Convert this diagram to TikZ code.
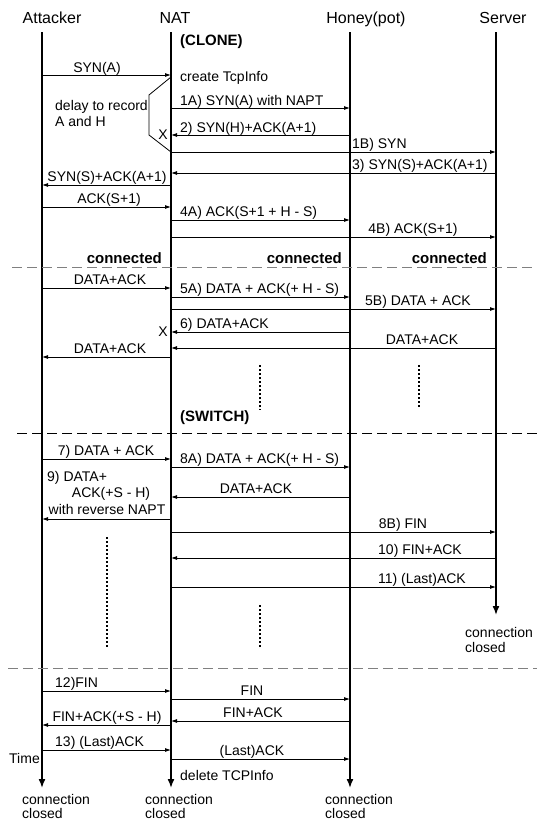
\documentclass[tikz,border=0pt]{standalone}
\usepackage{fontspec}
\setmainfont{Liberation Sans}
\usetikzlibrary{arrows.meta, calc}

\begin{document}
\begin{tikzpicture}[x=1pt, y=-1pt,
    head/.style={font=\fontsize{16}{18}\selectfont, inner sep=0pt, anchor=base},
    lbl/.style={font=\fontsize{14}{16}\selectfont, inner sep=0pt, anchor=base},
    lblw/.style={lbl, anchor=base west},
    bold/.style={font=\fontsize{15}{17}\selectfont\bfseries, inner sep=0pt},
    life/.style={line width=1.6pt, -{Latex[length=9pt, width=7pt]}},
    msg/.style={line width=0.8pt, -{Latex[length=6pt, width=4pt]}},
    sep/.style={line width=0.9pt, dash pattern=on 10pt off 5pt},
    dots/.style={line width=1.2pt, dash pattern=on 2pt off 2pt}]

    \useasboundingbox (0,0) rectangle (537,820);

    % =================================================================
    % 1. LIFELINES AND THEIR NAMES
    % =================================================================
    \coordinate (Att) at (42,32);
    \coordinate (Nat) at (171,32);
    \coordinate (Hon) at (350,32);
    \coordinate (Srv) at (496,32);

    \node[head] (AttHead) at (52,23) {Attacker};
    \node[head] (NatHead) at (175,23) {NAT};
    \node[head] (HonHead) at (366,23) {Honey(pot)};
    \node[head] (SrvHead) at (503,23) {Server};

    \draw[life] (Att) -- (Att |- 0,788);
    \draw[life] (Nat) -- (Nat |- 0,788);
    \draw[life] (Hon) -- (Hon |- 0,788);
    \draw[life] (Srv) -- (Srv |- 0,615);

    % =================================================================
    % 2. CLONE: HANDSHAKE WITH HONEYPOT AND SERVER
    % =================================================================
    \node[bold, anchor=base west] (clone) at (180,45) {(CLONE)};
    \draw[msg] (Att |- 0,75) -- (Nat |- 0,75);
    \node[lbl] (synA) at (97,72) {SYN(A)};
    \node[lblw] (create) at (180,81) {create TcpInfo};

    % Delay bracket on the NAT side
    \draw[line width=0.8pt] (Nat |- 0,77) -- (149,95) -- (149,135) -- (Nat |- 0,152);
    \node[lblw] (delay) at (55,110) {delay to record};
    \node[lblw] (delayB) at (55,126) {A and H};

    \draw[msg] (Nat |- 0,108) -- (Hon |- 0,108);
    \node[lblw] (m1A) at (180,105) {1A) SYN(A) with NAPT};
    \draw[msg] (Hon |- 0,135) -- (Nat |- 0,135);
    \node[lblw] (m2) at (180,132) {2) SYN(H)+ACK(A+1)};
    \node[lbl] (drop1) at (163,139.5) {X};
    \draw[msg] (Nat |- 0,152) -- (Srv |- 0,152);
    \node[lblw] (m1B) at (352,148) {1B) SYN};
    \draw[msg] (Srv |- 0,173) -- (Nat |- 0,173);
    \node[lblw] (m3) at (352,169) {3) SYN(S)+ACK(A+1)};
    \draw[msg] (Nat |- 0,185) -- (Att |- 0,185);
    \node[lbl] (m3R) at (107,181) {SYN(S)+ACK(A+1)};
    \draw[msg] (Att |- 0,207) -- (Nat |- 0,207);
    \node[lbl] (ackS) at (109,203) {ACK(S+1)};
    \draw[msg] (Nat |- 0,220) -- (Hon |- 0,220);
    \node[lblw] (m4A) at (180,216) {4A) ACK(S+1 + H - S)};
    \draw[msg] (Nat |- 0,237) -- (Srv |- 0,237);
    \node[lbl] (m4B) at (413,233) {4B) ACK(S+1)};

    \node[bold, anchor=base east] (conA) at (162,263) {connected};
    \node[bold, anchor=base east] (conH) at (342,263) {connected};
    \node[bold, anchor=base east] (conS) at (487,263) {connected};
    \draw[sep, gray] (12,267) -- (537,267);

    % =================================================================
    % 3. DATA WHILE CLONED
    % =================================================================
    \draw[msg] (Att |- 0,288) -- (Nat |- 0,288);
    \node[lbl] (data1) at (110,284) {DATA+ACK};
    \draw[msg] (Nat |- 0,297) -- (Hon |- 0,297);
    \node[lblw] (m5A) at (180,293) {5A) DATA + ACK(+ H - S)};
    \draw[msg] (Nat |- 0,309) -- (Srv |- 0,309);
    \node[lbl] (m5B) at (418,305) {5B) DATA + ACK};
    \draw[msg] (Hon |- 0,332) -- (Nat |- 0,332);
    \node[lblw] (m6) at (180,328) {6) DATA+ACK};
    \node[lbl] (drop2) at (163,336.5) {X};
    \draw[msg] (Srv |- 0,348) -- (Nat |- 0,348);
    \node[lbl] (data2) at (422,344) {DATA+ACK};
    \draw[msg] (Nat |- 0,357) -- (Att |- 0,357);
    \node[lbl] (data3) at (110,353) {DATA+ACK};
    \draw[dots] (260,365) -- (260,410);
    \draw[dots] (419,365) -- (419,408);

    % =================================================================
    % 4. SWITCH TO THE HONEYPOT
    % =================================================================
    \node[bold, anchor=base west] (switch) at (180,421) {(SWITCH)};
    \draw[sep] (17,433) -- (537,433);

    \draw[msg] (Att |- 0,459) -- (Nat |- 0,459);
    \node[lbl] (m7) at (106,455) {7) DATA + ACK};
    \draw[msg] (Nat |- 0,467) -- (Hon |- 0,467);
    \node[lblw] (m8A) at (180,463) {8A) DATA + ACK(+ H - S)};
    \draw[msg] (Hon |- 0,497) -- (Nat |- 0,497);
    \node[lbl] (data4) at (256,493) {DATA+ACK};
    \draw[msg] (Nat |- 0,519) -- (Att |- 0,519);
    \node[lblw] (m9) at (47,481) {9) DATA+};
    \node[lbl] (m9B) at (111,497) {ACK(+S - H)};
    \node[lbl] (m9C) at (107,514) {with reverse NAPT};

    \draw[msg] (Nat |- 0,532) -- (Srv |- 0,532);
    \node[lbl] (m8B) at (403,528) {8B) FIN};
    \draw[msg] (Srv |- 0,558) -- (Nat |- 0,558);
    \node[lbl] (m10) at (420,554) {10) FIN+ACK};
    \draw[msg] (Nat |- 0,587) -- (Srv |- 0,587);
    \node[lbl] (m11) at (422,583) {11) (Last)ACK};
    \node[lblw] (srvClosed) at (465,637) {connection};
    \node[lblw] (srvClosedB) at (465,652) {closed};

    \draw[dots] (107,537) -- (107,648);
    \draw[dots] (260,605) -- (260,648);
    \draw[sep, gray] (8,668) -- (537,668);

    % =================================================================
    % 5. CLOSING BETWEEN ATTACKER AND HONEYPOT
    % =================================================================
    \draw[msg] (Att |- 0,691) -- (Nat |- 0,691);
    \node[lblw] (m12) at (55,687) {12)FIN};
    \draw[msg] (Nat |- 0,699) -- (Hon |- 0,699);
    \node[lbl] (fin) at (252,695) {FIN};
    \draw[msg] (Hon |- 0,721) -- (Nat |- 0,721);
    \node[lbl] (finAck) at (253,717) {FIN+ACK};
    \draw[msg] (Nat |- 0,725) -- (Att |- 0,725);
    \node[lbl] (finAckR) at (107,721) {FIN+ACK(+S - H)};
    \draw[msg] (Att |- 0,750) -- (Nat |- 0,750);
    \node[lblw] (m13) at (55,746) {13) (Last)ACK};
    \draw[msg] (Nat |- 0,759) -- (Hon |- 0,759);
    \node[lbl] (lastAck) at (252,755) {(Last)ACK};
    \node[lbl, anchor=base east] (time) at (40,763) {Time};
    \node[lblw] (delete) at (180,780) {delete TCPInfo};

    \node[lblw] (attClosed) at (22,804) {connection};
    \node[lblw] (attClosedB) at (22,818) {closed};
    \node[lblw] (natClosed) at (145,804) {connection};
    \node[lblw] (natClosedB) at (145,818) {closed};
    \node[lblw] (honClosed) at (325,804) {connection};
    \node[lblw] (honClosedB) at (325,818) {closed};

\end{tikzpicture}
\end{document}
